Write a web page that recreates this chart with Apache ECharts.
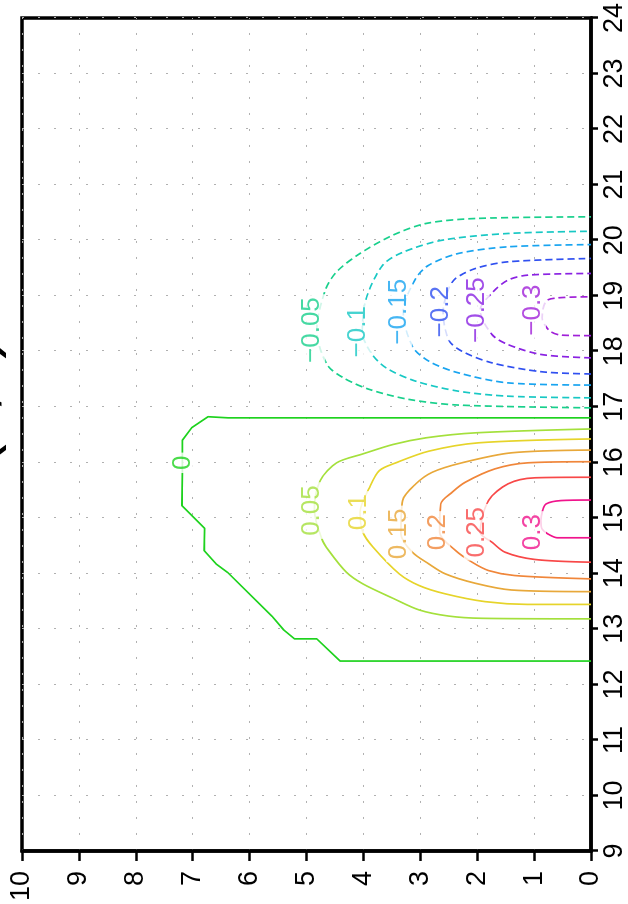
<!DOCTYPE html>
<html>
<head>
<meta charset="utf-8">
<script src="https://cdn.jsdelivr.net/npm/echarts@6/dist/echarts.min.js"></script>
<style>
  html, body { margin: 0; padding: 0; width: 628px; height: 904px; overflow: hidden; background: #fff; }
  #chart { position: absolute; left: 0; top: 0; width: 904px; height: 628px;
           transform-origin: 0 0; transform: translate(0px, 904px) rotate(-90deg); }
</style>
</head>
<body>
<div id="chart"></div>
<script>
// Axis ticks
const xTicks = [9, 10, 11, 12, 13, 14, 15, 16, 17, 18, 19, 20, 21, 22, 23, 24];
const yTicks = [0, 1, 2, 3, 4, 5, 6, 7, 8, 9, 10];

// Contour levels
const levels = [0, 0.05, 0.1, 0.15, 0.2, 0.25, 0.3, -0.05, -0.1, -0.15, -0.2, -0.25, -0.3];
const levelColors = ['#1ed21e', '#a4e03c', '#e6d42a', '#e8a83a', '#f0863a', '#f84848', '#f0148c',
                     '#18d08c', '#18c8c4', '#18a4f0', '#3050f0', '#8a22e2', '#a020d8'];

// Contour paths [x, y]
const c0 = [[12.42,0],[12.42,4.41],[12.82,4.82],[12.82,5.21],[12.98,5.40],[13.22,5.60],[14.01,6.38],[14.17,6.59],[14.41,6.80],[14.81,6.79],[15.22,7.19],[15.81,7.18],[15.99,7.18],[16.40,7.18],[16.62,7.02],[16.82,6.73],[16.80,6.38],[16.80,0]];
const c005 = [[13.18,0],[13.19,1.92],[13.23,2.50],[13.34,3.02],[13.55,3.48],[13.81,4.01],[14.02,4.30],[14.41,4.61],[14.62,4.73],[15.13,4.86],[15.67,4.76],[15.99,4.47],[16.15,4.01],[16.32,3.48],[16.44,2.90],[16.53,2.03],[16.60,0]];
const c01 = [[13.44,0],[13.44,1.11],[13.49,1.86],[13.63,2.56],[13.78,3.02],[13.99,3.37],[14.47,3.83],[14.74,4.01],[15.10,4.06],[15.55,3.89],[15.85,3.72],[15.99,3.43],[16.20,2.85],[16.35,1.98],[16.42,0]];
const c015 = [[13.67,0],[13.70,1.40],[13.82,2.03],[13.99,2.56],[14.17,2.85],[14.38,3.14],[14.71,3.34],[15.31,3.31],[15.61,3.08],[15.82,2.79],[15.99,2.27],[16.17,1.40],[16.22,0]];
const c02 = [[13.90,0],[13.96,1.34],[14.05,1.80],[14.20,2.09],[14.41,2.38],[14.74,2.66],[15.25,2.64],[15.46,2.44],[15.64,2.21],[15.88,1.69],[15.99,1.11],[16.01,0]];
const c025 = [[14.20,0],[14.25,0.99],[14.38,1.51],[14.56,1.74],[14.74,1.95],[15.31,1.80],[15.61,1.46],[15.72,0.99],[15.73,0]];
const c03 = [[14.64,0],[14.64,0.59],[14.71,0.76],[14.80,0.86],[14.95,0.88],[15.13,0.85],[15.25,0.79],[15.31,0.53],[15.32,0]];
const cm005 = [[16.98,0],[17.03,2.33],[17.13,3.19],[17.31,3.89],[17.52,4.35],[17.76,4.64],[18.38,4.82],[19.10,4.67],[19.43,4.47],[19.76,4.06],[20.09,3.48],[20.30,2.90],[20.39,2.03],[20.42,0]];
const cm01 = [[17.16,0],[17.19,1.46],[17.28,2.33],[17.46,3.08],[17.70,3.60],[17.96,3.86],[18.35,4.02],[18.95,3.95],[19.55,3.66],[19.78,3.31],[20.00,2.61],[20.12,1.46],[20.16,0]];
const cm015 = [[17.39,0],[17.43,1.46],[17.61,2.33],[17.82,2.85],[18.09,3.14],[18.71,3.30],[19.31,3.08],[19.55,2.85],[19.76,2.33],[19.88,1.46],[19.92,0]];
const cm02 = [[17.59,0],[17.63,0.87],[17.79,1.74],[18.00,2.27],[18.20,2.50],[18.71,2.60],[19.13,2.50],[19.31,2.38],[19.49,2.03],[19.61,1.46],[19.67,0]];
const cm025 = [[17.88,0],[17.94,0.87],[18.12,1.46],[18.30,1.74],[18.74,1.95],[19.07,1.72],[19.28,1.46],[19.37,1.11],[19.40,0]];
const cm03 = [[18.28,0],[18.29,0.53],[18.37,0.73],[18.60,0.86],[18.90,0.79],[18.96,0.59],[18.98,0]];
const contours = [c0, c005, c01, c015, c02, c025, c03, cm005, cm01, cm015, cm02, cm025, cm03];

// Contour label positions [x, y]
const labelPos = [[15.99,7.18],[15.13,4.90],[15.10,4.08],[14.71,3.37],[14.74,2.70],[14.74,2.01],[14.74,1.02],
                  [18.38,4.90],[18.35,4.09],[18.71,3.37],[18.71,2.64],[18.74,2.01],[18.74,1.02]];

const FONT = 'Liberation Sans, Arial, Helvetica, sans-serif';
const fmt = v => (v < 0 ? '\u2212' + String(-v) : String(v));

const series = contours.map((pts, i) => ({
  type: 'line',
  data: pts,
  showSymbol: false,
  symbol: 'none',
  smooth: i === 0 ? false : 0.3,
  silent: true,
  animation: false,
  z: 2,
  lineStyle: { color: levelColors[i], width: 1.7, type: levels[i] < 0 ? [7, 4] : 'solid' }
}));

series.push({
  type: 'scatter',
  symbolSize: 1,
  silent: true,
  animation: false,
  z: 5,
  itemStyle: { color: 'rgba(0,0,0,0)' },
  data: labelPos.map((p, i) => ({
    value: p,
    name: fmt(levels[i]),
    label: { color: levelColors[i] }
  })),
  label: {
    show: true,
    position: 'inside',
    formatter: p => p.name,
    fontSize: 26,
    fontFamily: FONT,
    backgroundColor: '#ffffff',
    padding: [0, 3],
    lineHeight: 26
  }
});

const gridLine = { show: true, lineStyle: { color: '#b0b0b0', width: 1, type: [2, 14] } };

const chart = echarts.init(document.getElementById('chart'), null, { renderer: 'canvas' });
chart.setOption({
  backgroundColor: '#ffffff',
  animation: false,
  title: {
    text: 'u(x, t)',
    left: 398,
    top: -62,
    textStyle: { fontSize: 64, fontWeight: 'normal', fontFamily: FONT, color: '#000' }
  },
  grid: { left: 52, right: 15, top: 22, bottom: 31, show: true, borderColor: '#000', borderWidth: 3.5, backgroundColor: 'transparent' },
  xAxis: {
    type: 'value',
    min: xTicks[0], max: xTicks[xTicks.length - 1], interval: 1,
    axisLine: { show: true, onZero: false, lineStyle: { color: '#000', width: 3.5 } },
    axisTick: { show: true, inside: false, length: 7, lineStyle: { color: '#000', width: 2.5 } },
    axisLabel: { margin: 10, fontSize: 27, fontFamily: FONT, color: '#000',
                 formatter: v => (xTicks.indexOf(v) >= 0 ? String(v) : '') },
    splitLine: gridLine
  },
  yAxis: {
    type: 'value',
    min: yTicks[0], max: yTicks[yTicks.length - 1], interval: 1,
    axisLine: { show: true, onZero: false, lineStyle: { color: '#000', width: 3.5 } },
    axisTick: { show: true, inside: false, length: 10, lineStyle: { color: '#000', width: 2.5 } },
    axisLabel: { margin: 20, fontSize: 27, fontFamily: FONT, color: '#000',
                 formatter: v => (yTicks.indexOf(v) >= 0 ? String(v) : '') },
    splitLine: gridLine
  },
  series: series
});
</script>
</body>
</html>
